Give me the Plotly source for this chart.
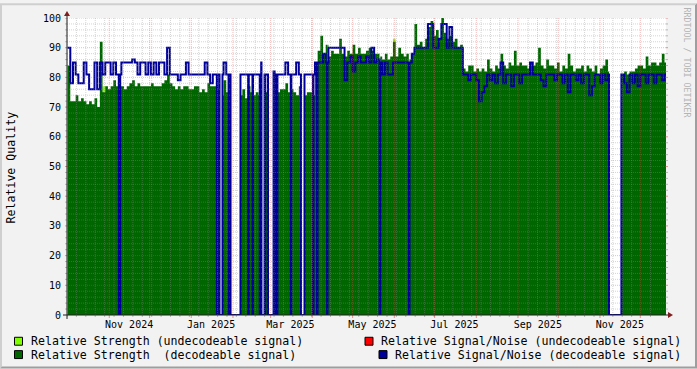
import plotly.graph_objects as go
import pandas as pd
from datetime import datetime, timedelta

# ---------------- data ----------------
START = datetime(2024, 10, 1)   # first 2-day bin
BIN_DAYS = 2

# Relative Strength (decodeable signal), one value per 2-day bin
strength_decodeable = [
    84, 72, 72, 74, 72, 73, 72, 71, 72, 71,
    73, 70, 92, 75, 77, 76, 77, 79, 77, 77,
    77, 76, 77, 78, 79, 77, 78, 77, 77, 77,
    77, 78, 77, 77, 77, 78, 79, 81, 78, 77,
    76, 77, 76, 77, 77, 76, 76, 77, 77, 75,
    76, 75, 78, 77, 77, 77, 76, 74, 79, 75,
    75, 75, 75, 75, 74, 76, 73, 77, 75, 74,
    75, 74, 78, 75, 75, 75, 75, 74, 75, 76,
    76, 78, 75, 76, 75, 74, 77, 74, 74, 75,
    75, 74, 85, 89, 94, 88, 91, 87, 89, 88,
    88, 93, 88, 87, 89, 88, 91, 88, 90, 88,
    88, 89, 90, 89, 88, 88, 87, 86, 88, 86,
    87, 92, 87, 90, 88, 87, 88, 86, 88, 98,
    91, 92, 90, 93, 97, 99, 94, 96, 93, 100,
    95, 93, 94, 92, 93, 90, 91, 83, 82, 84,
    84, 82, 83, 82, 83, 82, 86, 83, 82, 84,
    83, 88, 84, 83, 85, 84, 89, 84, 85, 84,
    84, 83, 85, 84, 85, 90, 84, 83, 86, 84,
    84, 83, 85, 82, 84, 83, 88, 84, 82, 83,
    83, 84, 82, 84, 83, 82, 84, 81, 83, 84,
    86, 82, 82, 82, 82, 82, 81, 82, 81, 82,
    82, 83, 84, 84, 83, 87, 84, 85, 85, 84,
    85, 88, 85,
]

# Relative Signal/Noise (decodeable signal), one value per 2-day bin
snr_decodeable = [
    90, 78, 85, 81, 78, 78, 85, 81, 76, 76,
    85, 76, 85, 81, 85, 85, 81, 85, 81, 81,
    85, 85, 85, 85, 86, 85, 81, 85, 85, 81,
    85, 81, 85, 81, 85, 85, 81, 90, 81, 81,
    81, 79, 81, 81, 85, 81, 81, 81, 81, 81,
    81, 85, 81, 78, 81, 81, 81, 81, 85, 81,
    81, 81, 81, 81, 81, 81, 81, 81, 81, 81,
    81, 81, 85, 81, 81, 81, 82, 81, 81, 81,
    81, 85, 81, 81, 81, 85, 81, 85, 81, 81,
    81, 81, 85, 85, 85, 88, 85, 90, 90, 90,
    90, 90, 90, 79, 85, 87, 82, 85, 87, 85,
    85, 87, 85, 90, 85, 86, 85, 81, 85, 81,
    81, 85, 85, 85, 85, 85, 85, 85, 88, 90,
    90, 90, 90, 90, 98, 98, 90, 90, 93, 98,
    98, 90, 97, 90, 90, 90, 90, 81, 81, 79,
    81, 81, 79, 72, 75, 77, 81, 79, 81, 78,
    81, 85, 78, 81, 81, 77, 81, 81, 78, 81,
    81, 81, 85, 81, 81, 81, 79, 77, 81, 81,
    81, 79, 81, 81, 78, 81, 75, 81, 81, 79,
    81, 78, 81, 81, 74, 77, 81, 81, 78, 81,
    79, 81, 81, 81, 81, 81, 81, 78, 75, 81,
    78, 81, 77, 81, 81, 78, 81, 81, 78, 81,
    81, 79, 81,
]

# Relative Strength (undecodeable signal): only a few bins carry a value
undecodeable_bins = [13, 121]
strength_undecodeable = [77, 93]

# Periods without data
outage_start = [
    "2024-11-08 02:00", "2025-01-20 00:00", "2025-01-22 00:00", "2025-01-28 17:00",
    "2025-01-30 05:00", "2025-02-12 07:00", "2025-02-15 12:00", "2025-02-20 22:00",
    "2025-02-22 05:00", "2025-02-24 17:00", "2025-02-27 02:00", "2025-03-04 02:00",
    "2025-03-05 19:00", "2025-03-16 00:00", "2025-03-23 14:00", "2025-04-01 12:00",
    "2025-04-04 12:00", "2025-04-12 00:00", "2025-05-21 00:00", "2025-06-11 19:00",
    "2025-11-07 17:00",
]
outage_end = [
    "2024-11-09 03:00", "2025-01-20 10:00", "2025-01-24 05:00", "2025-01-29 00:00",
    "2025-02-06 14:00", "2025-02-12 19:00", "2025-02-15 22:00", "2025-02-21 07:00",
    "2025-02-24 12:00", "2025-02-25 02:00", "2025-03-03 05:00", "2025-03-04 12:00",
    "2025-03-06 02:00", "2025-03-16 10:00", "2025-03-26 05:00", "2025-04-01 22:00",
    "2025-04-04 22:00", "2025-04-12 07:00", "2025-05-21 14:00", "2025-06-12 07:00",
    "2025-11-16 22:00",
]

label_dates = ["2024-11-15 18:00", "2025-01-15 18:00", "2025-03-15 18:00", "2025-05-15 18:00",
               "2025-07-15 18:00", "2025-09-15 18:00", "2025-11-15 18:00"]
label_text = ["Nov 2024", "Jan 2025", "Mar 2025", "May 2025", "Jul 2025", "Sep 2025", "Nov 2025"]
y_ticks = [0, 10, 20, 30, 40, 50, 60, 70, 80, 90, 100]

X_RANGE = ["2024-09-30 13:18", "2025-12-20 02:30"]

legend_labels = [
    "Relative Strength (undecodeable signal)",
    "Relative Strength  (decodeable signal)",
    "Relative Signal/Noise (undecodeable signal)",
    "Relative Signal/Noise (decodeable signal)",
]

# ---------------- styles ----------------
C_BACK = "#F2F2F2"
C_SHADEA = "#CFCFCF"
C_SHADEB = "#9E9E9E"
C_GRID = "rgba(143,143,143,0.38)"
C_MGRID = "rgba(222,79,79,0.38)"
C_GRID_T = "rgba(143,143,143,0.6)"
C_MGRID_T = "rgba(222,79,79,0.6)"
C_AXIS = "#1F1F1F"
C_ARROW = "#801F1F"
C_DEC_STR = "#006600"
C_UND_STR = "#80FF00"
C_DEC_SNR = "#000099"
C_UND_SNR = "#FF0000"
MONO = "DejaVu Sans Mono"

W, H = 697, 369
L, R, T, B = 67, 31, 15, 54
PW, PH = W - L - R, H - T - B


def px(x):
    return (x - L) / PW


def py(y):
    return (T + PH - y) / PH


outs = list(zip(pd.to_datetime(outage_start), pd.to_datetime(outage_end)))


def step_series(vals):
    edges = [pd.Timestamp(START + timedelta(days=BIN_DAYS * i)) for i in range(len(vals) + 1)]
    pts = set(edges)
    for s, e in outs:
        pts.add(s)
        pts.add(e)
    pts = sorted(pts)
    xs, ys = [], []
    for t in pts[:-1]:
        if any(s <= t < e for s, e in outs):
            v = 0
        else:
            i = int((t - pd.Timestamp(START)) / pd.Timedelta(days=BIN_DAYS))
            v = vals[i]
        xs.append(t)
        ys.append(v)
    xs.append(pts[-1])
    ys.append(ys[-1])
    return xs, ys


und_vals = [0] * len(strength_decodeable)
for b, v in zip(undecodeable_bins, strength_undecodeable):
    und_vals[b] = v

fig = go.Figure()
ux, uy = step_series(und_vals)
fig.add_trace(go.Scatter(x=ux, y=uy, mode="lines", line=dict(shape="hv", width=0, color=C_UND_STR),
                         fill="tozeroy", fillcolor=C_UND_STR, showlegend=False, hoverinfo="skip"))
gx, gy = step_series(strength_decodeable)
fig.add_trace(go.Scatter(x=gx, y=gy, mode="lines", line=dict(shape="hv", width=0, color=C_DEC_STR),
                         fill="tozeroy", fillcolor=C_DEC_STR, showlegend=False, hoverinfo="skip"))
bx, by = step_series(snr_decodeable)
fig.add_trace(go.Scatter(x=bx, y=by, mode="lines", line=dict(shape="hv", width=2, color=C_DEC_SNR),
                         showlegend=False, hoverinfo="skip"))

shapes = []
# 3D frame
shapes.append(dict(type="path", xref="paper", yref="paper", layer="below",
                   path=f"M {px(0)},{py(H)} L {px(2)},{py(H-2)} L {px(2)},{py(2)} L {px(W-2)},{py(2)} L {px(W)},{py(0)} L {px(0)},{py(0)} Z",
                   fillcolor=C_SHADEA, line=dict(width=0)))
shapes.append(dict(type="path", xref="paper", yref="paper", layer="below",
                   path=f"M {px(2)},{py(H-2)} L {px(W-2)},{py(H-2)} L {px(W-2)},{py(2)} L {px(W)},{py(0)} L {px(W)},{py(H)} L {px(0)},{py(H)} Z",
                   fillcolor=C_SHADEB, line=dict(width=0)))

# vertical grid: weekly minor, monthly major
rs, re_ = pd.Timestamp(X_RANGE[0]), pd.Timestamp(X_RANGE[1])
months = pd.date_range("2024-11-01", re_, freq="MS")
weeks = [w for w in pd.date_range(rs, re_, freq="W-MON") if w.day != 1]
for w in weeks:
    shapes.append(dict(type="line", xref="x", yref="paper", x0=w, x1=w, y0=0, y1=1,
                       line=dict(color=C_GRID, width=1, dash="1px,1px")))
    shapes.append(dict(type="line", xref="x", yref="paper", x0=w, x1=w, ysizemode="pixel", yanchor=0,
                       y0=-2, y1=0, line=dict(color=C_GRID_T, width=1)))
for m in months:
    shapes.append(dict(type="line", xref="x", yref="paper", x0=m, x1=m, y0=0, y1=1,
                       line=dict(color=C_MGRID, width=1, dash="1px,1px")))
    shapes.append(dict(type="line", xref="x", yref="paper", x0=m, x1=m, ysizemode="pixel", yanchor=0,
                       y0=-3, y1=0, line=dict(color=C_MGRID_T, width=1)))
# horizontal grid
for v in range(2, 101, 2):
    major = v % 10 == 0
    col = C_MGRID if major else C_GRID
    colt = C_MGRID_T if major else C_GRID_T
    shapes.append(dict(type="line", xref="paper", yref="y", x0=0, x1=1, y0=v, y1=v,
                       line=dict(color=col, width=1, dash="1px,1px")))
    shapes.append(dict(type="line", xref="paper", yref="y", xsizemode="pixel", xanchor=0,
                       x0=-2, x1=0, y0=v, y1=v, line=dict(color=colt, width=1)))
    shapes.append(dict(type="line", xref="paper", yref="y", xsizemode="pixel", xanchor=1,
                       x0=0, x1=2, y0=v, y1=v, line=dict(color=colt, width=1)))

# axes + arrows
shapes.append(dict(type="line", xref="paper", yref="paper", x0=px(L - 4), x1=px(L + PW + 4), y0=0, y1=0,
                   line=dict(color=C_AXIS, width=1)))
shapes.append(dict(type="line", xref="paper", yref="paper", x0=0, x1=0, y0=py(T + PH + 4), y1=py(T - 4),
                   line=dict(color=C_AXIS, width=1)))
xe = L + PW
shapes.append(dict(type="path", xref="paper", yref="paper",
                   path=f"M {px(xe+2)},{py(T+PH-3)} L {px(xe+2)},{py(T+PH+3)} L {px(xe+7)},{py(T+PH)} Z",
                   fillcolor=C_ARROW, line=dict(width=0)))
shapes.append(dict(type="path", xref="paper", yref="paper",
                   path=f"M {px(L-3)},{py(T-2)} L {px(L+3)},{py(T-2)} L {px(L)},{py(T-7)} Z",
                   fillcolor=C_ARROW, line=dict(width=0)))

# legend boxes
legend_boxes = [(14.5, 337.5, C_UND_STR), (14.5, 351, C_DEC_STR), (365, 337.5, C_UND_SNR), (379, 351, C_DEC_SNR)]
for bx0, by0, col in legend_boxes:
    shapes.append(dict(type="rect", xref="paper", yref="paper", x0=px(bx0), x1=px(bx0 + 8),
                       y0=py(by0 + 8), y1=py(by0), fillcolor=col, line=dict(color="#000000", width=1)))

annotations = []
legend_pos = [(30, 341.5), (30, 355), (380, 341.5), (394.3, 355)]
for (lx, ly), txt in zip(legend_pos, legend_labels):
    annotations.append(dict(text=txt.replace(" ", "&nbsp;"), xref="paper", yref="paper", x=px(lx), y=py(ly),
                            xanchor="left", yanchor="middle", showarrow=False, borderpad=0,
                            font=dict(family=MONO, size=11.6, color="#000000")))
annotations.append(dict(text="Relative Quality", xref="paper", yref="paper", x=px(11), y=py(166),
                        xanchor="center", yanchor="middle", textangle=-90, showarrow=False,
                        font=dict(family=MONO, size=11.6, color="#000000")))
annotations.append(dict(text="RRDTOOL / TOBI OETIKER", xref="paper", yref="paper", x=px(687), y=py(60),
                        xanchor="center", yanchor="middle", textangle=90, showarrow=False,
                        font=dict(family=MONO, size=8.3, color="#B4B4B4")))

fig.update_layout(
    width=W, height=H,
    margin=dict(l=L, r=R, t=T, b=B, pad=0),
    paper_bgcolor=C_BACK, plot_bgcolor="#FFFFFF",
    shapes=shapes, annotations=annotations,
    showlegend=False,
    xaxis=dict(type="date", range=X_RANGE, showgrid=False, zeroline=False, showline=False,
               tickmode="array", tickvals=label_dates, ticktext=label_text, ticks="",
               tickfont=dict(family=MONO, size=10, color="#000000"), ticklabelstandoff=2,
               fixedrange=True),
    yaxis=dict(range=[0, 100], showgrid=False, zeroline=False, showline=False,
               tickmode="array", tickvals=y_ticks, ticks="",
               tickfont=dict(family=MONO, size=10, color="#000000"), ticklabelstandoff=5,
               fixedrange=True),
)

fig.write_html("out.html")
